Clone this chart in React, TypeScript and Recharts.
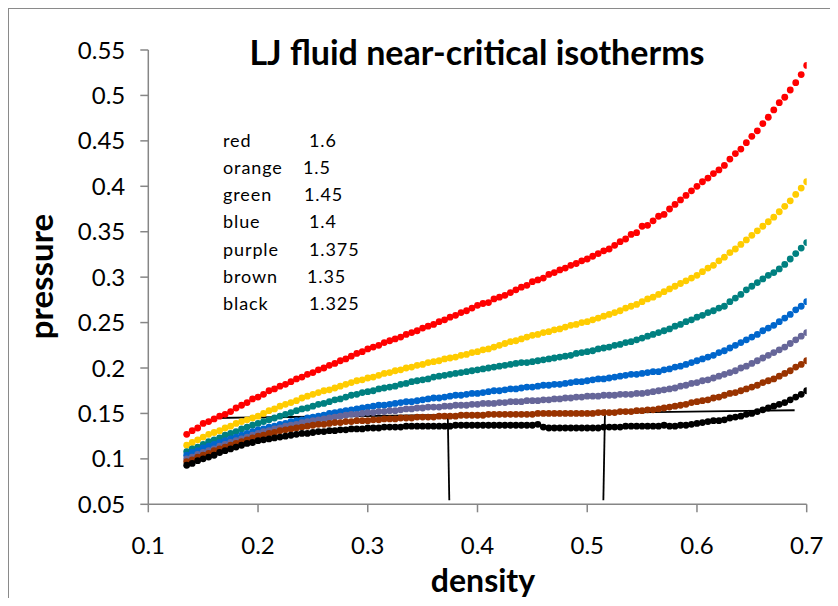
import React from 'react';
import { ScatterChart, Scatter, XAxis, YAxis, ReferenceLine } from 'recharts';

const densities = [
  0.135, 0.14, 0.145, 0.15, 0.155, 0.16, 0.165, 0.17, 0.175, 0.18,
  0.185, 0.19, 0.195, 0.2, 0.205, 0.21, 0.215, 0.22, 0.225, 0.23,
  0.235, 0.24, 0.245, 0.25, 0.255, 0.26, 0.265, 0.27, 0.275, 0.28,
  0.285, 0.29, 0.295, 0.3, 0.305, 0.31, 0.315, 0.32, 0.325, 0.33,
  0.335, 0.34, 0.345, 0.35, 0.355, 0.36, 0.365, 0.37, 0.375, 0.38,
  0.385, 0.39, 0.395, 0.4, 0.405, 0.41, 0.415, 0.42, 0.425, 0.43,
  0.435, 0.44, 0.445, 0.45, 0.455, 0.46, 0.465, 0.47, 0.475, 0.48,
  0.485, 0.49, 0.495, 0.5, 0.505, 0.51, 0.515, 0.52, 0.525, 0.53,
  0.535, 0.54, 0.545, 0.55, 0.555, 0.56, 0.565, 0.57, 0.575, 0.58,
  0.585, 0.59, 0.595, 0.6, 0.605, 0.61, 0.615, 0.62, 0.625, 0.63,
  0.635, 0.64, 0.645, 0.65, 0.655, 0.66, 0.665, 0.67, 0.675, 0.68,
  0.685, 0.69, 0.695, 0.7,
];

const pressureRed = [
  0.127, 0.131, 0.134, 0.139, 0.141, 0.144, 0.147, 0.149, 0.152, 0.156,
  0.159, 0.162, 0.166, 0.168, 0.171, 0.175, 0.177, 0.18, 0.182, 0.185,
  0.188, 0.19, 0.193, 0.195, 0.198, 0.2, 0.203, 0.205, 0.208, 0.21,
  0.213, 0.216, 0.218, 0.221, 0.223, 0.225, 0.228, 0.23, 0.232, 0.234,
  0.237, 0.239, 0.241, 0.244, 0.246, 0.248, 0.251, 0.253, 0.256, 0.258,
  0.261, 0.263, 0.266, 0.269, 0.271, 0.272, 0.276, 0.278, 0.28, 0.283,
  0.286, 0.289, 0.291, 0.295, 0.297, 0.299, 0.303, 0.305, 0.308, 0.31,
  0.313, 0.315, 0.318, 0.32, 0.323, 0.326, 0.329, 0.331, 0.335, 0.339,
  0.342, 0.347, 0.349, 0.356, 0.357, 0.362, 0.367, 0.369, 0.375, 0.38,
  0.385, 0.39, 0.395, 0.4, 0.405, 0.409, 0.414, 0.418, 0.423, 0.43,
  0.436, 0.441, 0.448, 0.455, 0.461, 0.469, 0.476, 0.484, 0.492, 0.498,
  0.506, 0.514, 0.523, 0.533,
];

const pressureOrange = [
  0.115, 0.118, 0.121, 0.124, 0.127, 0.129, 0.131, 0.134, 0.136, 0.139,
  0.141, 0.143, 0.145, 0.147, 0.15, 0.153, 0.155, 0.158, 0.16, 0.162,
  0.164, 0.167, 0.169, 0.171, 0.173, 0.175, 0.176, 0.178, 0.18, 0.182,
  0.184, 0.186, 0.187, 0.189, 0.19, 0.192, 0.194, 0.195, 0.197, 0.198,
  0.2, 0.201, 0.203, 0.204, 0.206, 0.207, 0.208, 0.21, 0.211, 0.212,
  0.214, 0.215, 0.217, 0.218, 0.22, 0.221, 0.223, 0.225, 0.227, 0.229,
  0.23, 0.232, 0.234, 0.236, 0.237, 0.239, 0.24, 0.242, 0.243, 0.245,
  0.247, 0.248, 0.25, 0.251, 0.253, 0.255, 0.257, 0.259, 0.261, 0.263,
  0.266, 0.268, 0.27, 0.273, 0.276, 0.278, 0.281, 0.284, 0.287, 0.29,
  0.293, 0.296, 0.299, 0.302, 0.306, 0.31, 0.313, 0.318, 0.322, 0.327,
  0.331, 0.336, 0.341, 0.346, 0.351, 0.356, 0.361, 0.366, 0.372, 0.378,
  0.384, 0.391, 0.398, 0.405,
];

const pressureGreen = [
  0.108, 0.111, 0.113, 0.116, 0.119, 0.121, 0.123, 0.126, 0.128, 0.13,
  0.133, 0.135, 0.137, 0.139, 0.141, 0.143, 0.145, 0.147, 0.149, 0.151,
  0.153, 0.155, 0.156, 0.158, 0.16, 0.161, 0.163, 0.165, 0.166, 0.168,
  0.17, 0.171, 0.173, 0.174, 0.175, 0.177, 0.178, 0.179, 0.18, 0.182,
  0.183, 0.185, 0.186, 0.187, 0.188, 0.19, 0.191, 0.192, 0.193, 0.194,
  0.195, 0.196, 0.197, 0.198, 0.199, 0.2, 0.201, 0.202, 0.203, 0.204,
  0.205, 0.206, 0.206, 0.207, 0.208, 0.209, 0.21, 0.211, 0.212, 0.213,
  0.214, 0.216, 0.217, 0.218, 0.219, 0.221, 0.222, 0.223, 0.225, 0.226,
  0.228, 0.229, 0.231, 0.233, 0.235, 0.237, 0.239, 0.241, 0.243, 0.246,
  0.248, 0.251, 0.253, 0.256, 0.258, 0.261, 0.263, 0.266, 0.268, 0.273,
  0.277, 0.281, 0.286, 0.29, 0.294, 0.298, 0.302, 0.305, 0.309, 0.314,
  0.32, 0.326, 0.332, 0.338,
];

const pressureBlue = [
  0.104, 0.107, 0.109, 0.112, 0.114, 0.116, 0.118, 0.12, 0.122, 0.124,
  0.126, 0.128, 0.13, 0.132, 0.133, 0.135, 0.136, 0.138, 0.139, 0.141,
  0.142, 0.143, 0.145, 0.146, 0.147, 0.148, 0.15, 0.151, 0.152, 0.153,
  0.154, 0.155, 0.156, 0.157, 0.158, 0.159, 0.159, 0.16, 0.161, 0.162,
  0.163, 0.163, 0.164, 0.165, 0.166, 0.167, 0.167, 0.168, 0.169, 0.17,
  0.17, 0.171, 0.172, 0.172, 0.173, 0.174, 0.175, 0.175, 0.176, 0.177,
  0.177, 0.178, 0.179, 0.179, 0.18, 0.181, 0.181, 0.182, 0.182, 0.183,
  0.184, 0.185, 0.185, 0.186, 0.187, 0.188, 0.188, 0.189, 0.19, 0.191,
  0.192, 0.193, 0.193, 0.194, 0.195, 0.196, 0.196, 0.198, 0.199, 0.201,
  0.202, 0.204, 0.206, 0.208, 0.21, 0.212, 0.214, 0.217, 0.219, 0.222,
  0.225, 0.228, 0.231, 0.234, 0.237, 0.241, 0.244, 0.247, 0.251, 0.255,
  0.259, 0.264, 0.268, 0.273,
];

const pressurePurple = [
  0.1, 0.102, 0.105, 0.107, 0.109, 0.111, 0.114, 0.116, 0.118, 0.12,
  0.122, 0.124, 0.126, 0.128, 0.13, 0.131, 0.133, 0.134, 0.136, 0.137,
  0.138, 0.14, 0.141, 0.142, 0.143, 0.144, 0.145, 0.146, 0.147, 0.148,
  0.149, 0.149, 0.15, 0.151, 0.151, 0.152, 0.152, 0.153, 0.153, 0.154,
  0.155, 0.155, 0.156, 0.156, 0.157, 0.157, 0.157, 0.158, 0.158, 0.159,
  0.159, 0.159, 0.16, 0.16, 0.161, 0.161, 0.161, 0.162, 0.162, 0.163,
  0.163, 0.163, 0.164, 0.164, 0.164, 0.165, 0.165, 0.166, 0.166, 0.167,
  0.167, 0.168, 0.168, 0.169, 0.169, 0.169, 0.17, 0.17, 0.17, 0.171,
  0.171, 0.171, 0.172, 0.172, 0.173, 0.174, 0.175, 0.176, 0.177, 0.178,
  0.18, 0.181, 0.183, 0.184, 0.186, 0.187, 0.189, 0.191, 0.193, 0.195,
  0.197, 0.2, 0.202, 0.205, 0.208, 0.211, 0.214, 0.217, 0.22, 0.223,
  0.227, 0.231, 0.235, 0.239,
];

const pressureBrown = [
  0.097, 0.099, 0.102, 0.104, 0.106, 0.109, 0.111, 0.113, 0.115, 0.117,
  0.119, 0.121, 0.123, 0.125, 0.126, 0.128, 0.129, 0.131, 0.132, 0.133,
  0.134, 0.135, 0.136, 0.137, 0.138, 0.138, 0.139, 0.14, 0.14, 0.141,
  0.141, 0.142, 0.142, 0.142, 0.143, 0.143, 0.144, 0.144, 0.144, 0.145,
  0.145, 0.145, 0.146, 0.146, 0.146, 0.146, 0.147, 0.147, 0.147, 0.147,
  0.148, 0.148, 0.148, 0.148, 0.148, 0.149, 0.149, 0.149, 0.149, 0.149,
  0.149, 0.149, 0.149, 0.149, 0.15, 0.15, 0.15, 0.15, 0.15, 0.15,
  0.15, 0.15, 0.15, 0.15, 0.15, 0.151, 0.151, 0.151, 0.151, 0.152,
  0.152, 0.152, 0.153, 0.153, 0.154, 0.154, 0.155, 0.156, 0.157, 0.158,
  0.159, 0.16, 0.162, 0.163, 0.164, 0.165, 0.167, 0.168, 0.17, 0.172,
  0.173, 0.175, 0.177, 0.179, 0.181, 0.184, 0.186, 0.188, 0.191, 0.194,
  0.197, 0.201, 0.204, 0.208,
];

const pressureBlack = [
  0.093, 0.095, 0.098, 0.1, 0.102, 0.104, 0.107, 0.109, 0.111, 0.113,
  0.115, 0.117, 0.118, 0.12, 0.121, 0.122, 0.123, 0.124, 0.125, 0.126,
  0.127, 0.128, 0.128, 0.129, 0.13, 0.13, 0.131, 0.131, 0.132, 0.132,
  0.133, 0.133, 0.133, 0.134, 0.134, 0.134, 0.135, 0.135, 0.135, 0.135,
  0.136, 0.136, 0.136, 0.136, 0.136, 0.136, 0.136, 0.136, 0.136, 0.137,
  0.137, 0.137, 0.137, 0.137, 0.137, 0.137, 0.137, 0.137, 0.137, 0.137,
  0.137, 0.137, 0.137, 0.137, 0.138, 0.135, 0.134, 0.134, 0.134, 0.134,
  0.134, 0.134, 0.134, 0.134, 0.134, 0.134, 0.135, 0.135, 0.135, 0.135,
  0.136, 0.136, 0.136, 0.136, 0.136, 0.136, 0.136, 0.137, 0.136, 0.136,
  0.137, 0.137, 0.138, 0.139, 0.14, 0.141, 0.142, 0.142, 0.143, 0.145,
  0.146, 0.147, 0.149, 0.15, 0.152, 0.154, 0.156, 0.158, 0.16, 0.162,
  0.165, 0.168, 0.171, 0.175,
];

const tieLine = [{ x: 0.162, y: 0.145 }, { x: 0.689, y: 0.1535 }];
const leftBoundary = [{ x: 0.3729, y: 0.148 }, { x: 0.3743, y: 0.0544 }];
const rightBoundary = [{ x: 0.5162, y: 0.1543 }, { x: 0.5147, y: 0.0544 }];

const xTicks = [0.1, 0.2, 0.3, 0.4, 0.5, 0.6, 0.7];
const yTicks = [0.05, 0.1, 0.15, 0.2, 0.25, 0.3, 0.35, 0.4, 0.45, 0.5, 0.55];

const legendNames = ['red', 'orange', 'green', 'blue', 'purple', 'brown', 'black'];
const legendTemps = ['1.6', '1.5', '1.45', '1.4', '1.375', '1.35', '1.325'];
const legendTempX = [301, 295, 296, 301, 301, 299, 301];

const seriesColors = ['#FF0000', '#FFCC00', '#008080', '#0066CC', '#666699', '#993300', '#000000'];
const seriesValues = [pressureRed, pressureOrange, pressureGreen, pressureBlue, pressurePurple, pressureBrown, pressureBlack];

const FONT = "Lato, 'Open Sans', sans-serif";
const W = 822;
const H = 590;

const toPoints = (ys: number[]) => densities.map((d, i) => ({ x: d, y: ys[i] }));

export default function App() {
  return (
    <div style={{ position: 'relative', width: W, height: H, background: '#fff' }}>
      <ScatterChart
        width={W}
        height={H}
        margin={{ top: 42, right: 23.3, bottom: 33.7, left: 40.3 }}
      >
        <XAxis
          type="number"
          dataKey="x"
          domain={[0.1, 0.7]}
          ticks={xTicks}
          interval={0}
          height={60}
          tickSize={8}
          tickMargin={25}
          axisLine={{ stroke: '#868686', strokeWidth: 1.5 }}
          tickLine={{ stroke: '#868686', strokeWidth: 1.5 }}
          tick={{ fill: '#000', fontSize: 24, fontFamily: FONT }}
          allowDataOverflow
        />
        <YAxis
          type="number"
          dataKey="y"
          domain={[0.05, 0.55]}
          ticks={yTicks}
          interval={0}
          width={100}
          tickSize={8}
          tickMargin={15}
          axisLine={{ stroke: '#868686', strokeWidth: 1.5 }}
          tickLine={{ stroke: '#868686', strokeWidth: 1.5 }}
          tick={{ fill: '#000', fontSize: 24, fontFamily: FONT }}
          allowDataOverflow
        />
        {seriesValues.map((vals, si) => (
          <Scatter
            key={legendNames[si]}
            name={legendNames[si]}
            data={toPoints(vals)}
            fill={seriesColors[si]}
            isAnimationActive={false}
            shape={(p: any) => <circle cx={p.cx} cy={p.cy} r={3.4} fill={seriesColors[si]} />}
          />
        ))}
        <ReferenceLine segment={tieLine} stroke="#000" strokeWidth={1.8} ifOverflow="visible" />
        <ReferenceLine segment={leftBoundary} stroke="#000" strokeWidth={1.8} ifOverflow="visible" />
        <ReferenceLine segment={rightBoundary} stroke="#000" strokeWidth={1.8} ifOverflow="visible" />
      </ScatterChart>
      <svg
        width={W}
        height={H}
        style={{ position: 'absolute', left: 0, top: 0, pointerEvents: 'none', overflow: 'visible' }}
      >
        <text x={469} y={57} textAnchor="middle" fontFamily={FONT} fontWeight={700} fontSize={34} fill="#000">
          LJ fluid near-critical isotherms
        </text>
        {legendNames.map((n, i) => (
          <text key={n} x={215} y={138.7 + i * 27.2} fontFamily={FONT} fontSize={18} letterSpacing={0.9} fill="#000">
            {n}
          </text>
        ))}
        {legendTemps.map((t, i) => (
          <text key={t} x={legendTempX[i]} y={138.7 + i * 27.2} fontFamily={FONT} fontSize={18} letterSpacing={0.9} fill="#000">
            {t}
          </text>
        ))}
        <text x={475} y={584} textAnchor="middle" fontFamily={FONT} fontWeight={700} fontSize={32} fill="#000">
          density
        </text>
        <text
          x={45}
          y={268.5}
          textAnchor="middle"
          transform="rotate(-90, 45, 268.5)"
          fontFamily={FONT}
          fontWeight={700}
          fontSize={33}
          fill="#000"
        >
          pressure
        </text>
      </svg>
      <div
        style={{
          position: 'absolute',
          left: -1,
          top: -1,
          right: 0,
          bottom: 0,
          borderLeft: '2px solid #8a8a8a',
          borderTop: '2px solid #8a8a8a',
          pointerEvents: 'none',
        }}
      />
    </div>
  );
}
